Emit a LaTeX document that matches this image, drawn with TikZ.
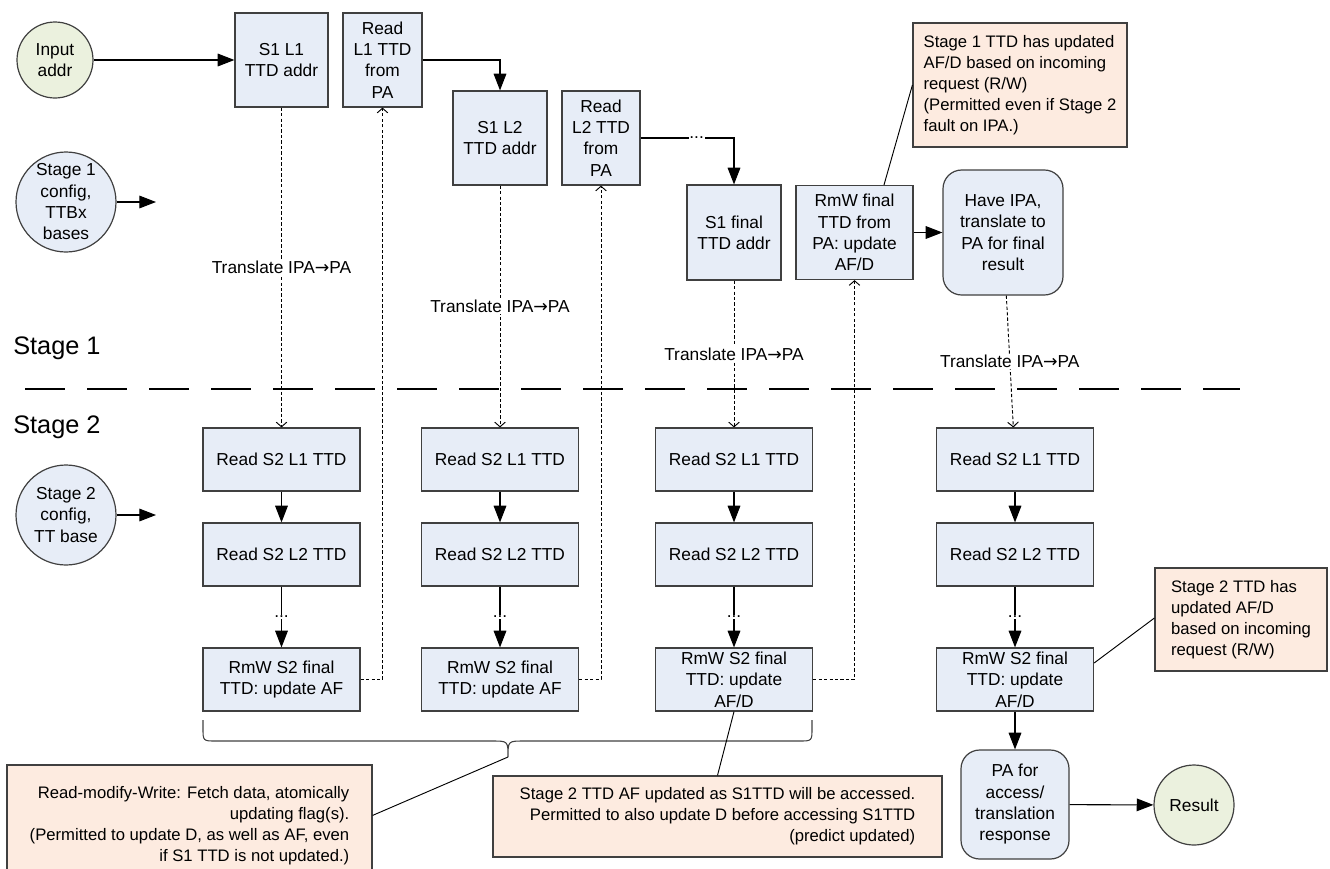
\documentclass[tikz,border=0pt]{standalone}
\usepackage{fontspec}
\setmainfont{Liberation Sans}
\newfontfamily\djv{DejaVu Sans}
\usetikzlibrary{arrows.meta,calc}
\definecolor{boxblue}{HTML}{E7EDF7}
\definecolor{peach}{HTML}{FDEBE0}
\definecolor{olive}{HTML}{EBF1DE}
\definecolor{edge}{HTML}{404040}
\newcommand{\iparrow}{{\djv →}}
\begin{document}
\begin{tikzpicture}[x=0.75pt,y=-0.75pt,
  font=\fontsize{13}{16}\selectfont,
  sz/.style 2 args={minimum width={#1*0.75pt},minimum height={#2*0.75pt}},
  box/.style={draw=edge,line width=0.9pt,fill=boxblue,align=center,inner sep=0pt},
  rbox/.style={box,rounded corners=14pt},
  circ/.style={circle,draw=edge,line width=0.9pt,align=center,inner sep=0pt},
  note/.style={draw=edge,line width=0.9pt,fill=peach,inner sep=0pt,font=\fontsize{12.5}{15.8}\selectfont},
  arr/.style={draw=black,line width=0.8pt,-{Triangle[length=12.5pt,width=9.5pt]}},
  dsh/.style={draw=black,line width=0.7pt,dash pattern=on 2.5pt off 1.6pt,-{Straight Barb[length=3.5pt,width=8pt]}},
  lbl/.style={fill=white,inner sep=1pt},
  dots/.style={fill=white,inner sep=0.5pt},
  pointer/.style={draw=black,line width=0.7pt},
  stg/.style={font=\fontsize{19}{22}\selectfont,anchor=west,inner sep=0pt}]
\useasboundingbox (0,0) rectangle (1330,868);

% separator
\coordinate (sepL) at (25,389);
\coordinate (sepR) at (1240,389);
\draw[line width=2.2pt,dash pattern=on 30pt off 16.5pt] (sepL) -- (sepR);
\node[stg] (st1) at (13,348) {Stage 1};
\node[stg] (st2) at (13,427) {Stage 2};

% left circles
\node[circ,fill=olive,minimum size=57pt] (in) at (55,60) {Input\\addr};
\node[circ,fill=boxblue,minimum size=75pt] (s1c) at (66,202) {Stage 1\\config,\\TTBx\\bases};
\node[circ,fill=boxblue,minimum size=75pt] (s2c) at (66,515) {Stage 2\\config,\\TT base};
\coordinate (s1ce) at (156,202);
\coordinate (s2ce) at (156,515);

% stage 1 boxes
\node[box,sz={93}{94}] (s1l1) at (281.5,60) {S1 L1\\TTD addr};
\node[box,sz={79}{94}] (rl1) at (382.5,60) {Read\\L1 TTD\\from\\PA};
\node[box,sz={94}{94}] (s1l2) at (500,138) {S1 L2\\TTD addr};
\node[box,sz={78}{94}] (rl2) at (601,138) {Read\\L2 TTD\\from\\PA};
\node[box,sz={94}{95}] (s1f) at (734,232.5) {S1 final\\TTD addr};
\node[box,sz={117}{94}] (rmwf) at (854.5,232.5) {RmW final\\TTD from\\PA: update\\AF/D};
\node[rbox,sz={120}{125}] (have) at (1003,232.5) {Have IPA,\\translate to\\PA for final\\result};

% stage 2 boxes
\foreach \c/\x in {1/281.5,2/500,3/734,4/1015}{
  \node[box,sz={157}{63}] (r1c\c) at (\x,459.5) {Read S2 L1 TTD};
  \node[box,sz={157}{63}] (r2c\c) at (\x,554.5) {Read S2 L2 TTD};
}
\node[box,sz={157}{63}] (r3c1) at (281.5,679.5) {RmW S2 final\\TTD: update AF};
\node[box,sz={157}{63}] (r3c2) at (500,679.5) {RmW S2 final\\TTD: update AF};
\node[box,sz={157}{63}] (r3c3) at (734,679.5) {RmW S2 final\\TTD: update\\AF/D};
\node[box,sz={157}{63}] (r3c4) at (1015,679.5) {RmW S2 final\\TTD: update\\AF/D};

\node[rbox,sz={108}{109}] (pa) at (1015,804.5) {PA for\\access/\\translation\\response};
\node[circ,fill=olive,minimum size=60pt] (res) at (1194,805) {Result};

% notes
\node[note,sz={214}{124},align=left] (n1) at (1020,85) {Stage 1 TTD has updated\\AF/D based on incoming\\request (R/W)\\(Permitted even if Stage 2\\fault on IPA.)};
\node[note,sz={172}{103},align=left] (n2) at (1241,619.5) {Stage 2 TTD has\\updated AF/D\\based on incoming\\request (R/W)};
\node[note,sz={449}{81},align=right] (n3) at (717.5,816.5) {Stage 2 TTD AF updated as S1TTD will be accessed.\\Permitted to also update D before accessing S1TTD\\(predict updated)};
\node[note,sz={365}{122},align=right] (n4) at (189.5,826) {Read-modify-Write: Fetch data, atomically\\updating flag(s).\\(Permitted to update D, as well as AF, even\\if S1 TTD is not updated.)};

% solid arrows
\draw[arr] (in) -- (s1l1);
\draw[arr] (s1c) -- (s1ce);
\draw[arr] (s2c) -- (s2ce);
\draw[arr] (rl1.east) -| (s1l2.north);
\draw[arr] (rl2.east) -| node[pos=0.3,dots]{...} (s1f.north);
\draw[arr] (rmwf) -- (have);
\foreach \c in {1,2,3,4}{
  \draw[arr] (r1c\c) -- (r2c\c);
  \draw[arr] (r2c\c) -- node[dots]{...} (r3c\c);
}
\draw[arr] (r3c4) -- (pa);
\draw[arr] (pa) -- (res);

% dashed translate connectors
\draw[dsh] (s1l1) -- node[lbl]{Translate IPA\iparrow PA} (r1c1);
\draw[dsh] (s1l2) -- node[lbl]{Translate IPA\iparrow PA} (r1c2);
\draw[dsh] (s1f) -- node[lbl]{Translate IPA\iparrow PA} (r1c3);
\draw[dsh] (have) -- node[lbl]{Translate IPA\iparrow PA} (r1c4);
\draw[dsh] (r3c1.east) -| (rl1.south);
\draw[dsh] (r3c2.east) -| (rl2.south);
\draw[dsh] (r3c3.east) -| (rmwf.south);

% brace
\coordinate (btip) at (508,757);
\draw[draw=edge,line width=0.8pt] (203,720) -- (203,728) .. controls (203,741) .. (216,741) -- (492,741) .. controls (508,741) .. (btip) .. controls (508,741) .. (524,741) -- (799,741) .. controls (812,741) .. (812,728) -- (812,720);

% note pointers
\draw[pointer] ($(rmwf.north)+(29.5,0)$) -- (n1.west);
\draw[pointer] ($(r3c4.east)+(0,-16.5)$) -- ($(n2.west)+(0,-1.5)$);
\draw[pointer] (r3c3.south) -- (n3.north);
\draw[pointer] (btip) -- ($(n4.north east)+(0,51)$);
\end{tikzpicture}
\end{document}
